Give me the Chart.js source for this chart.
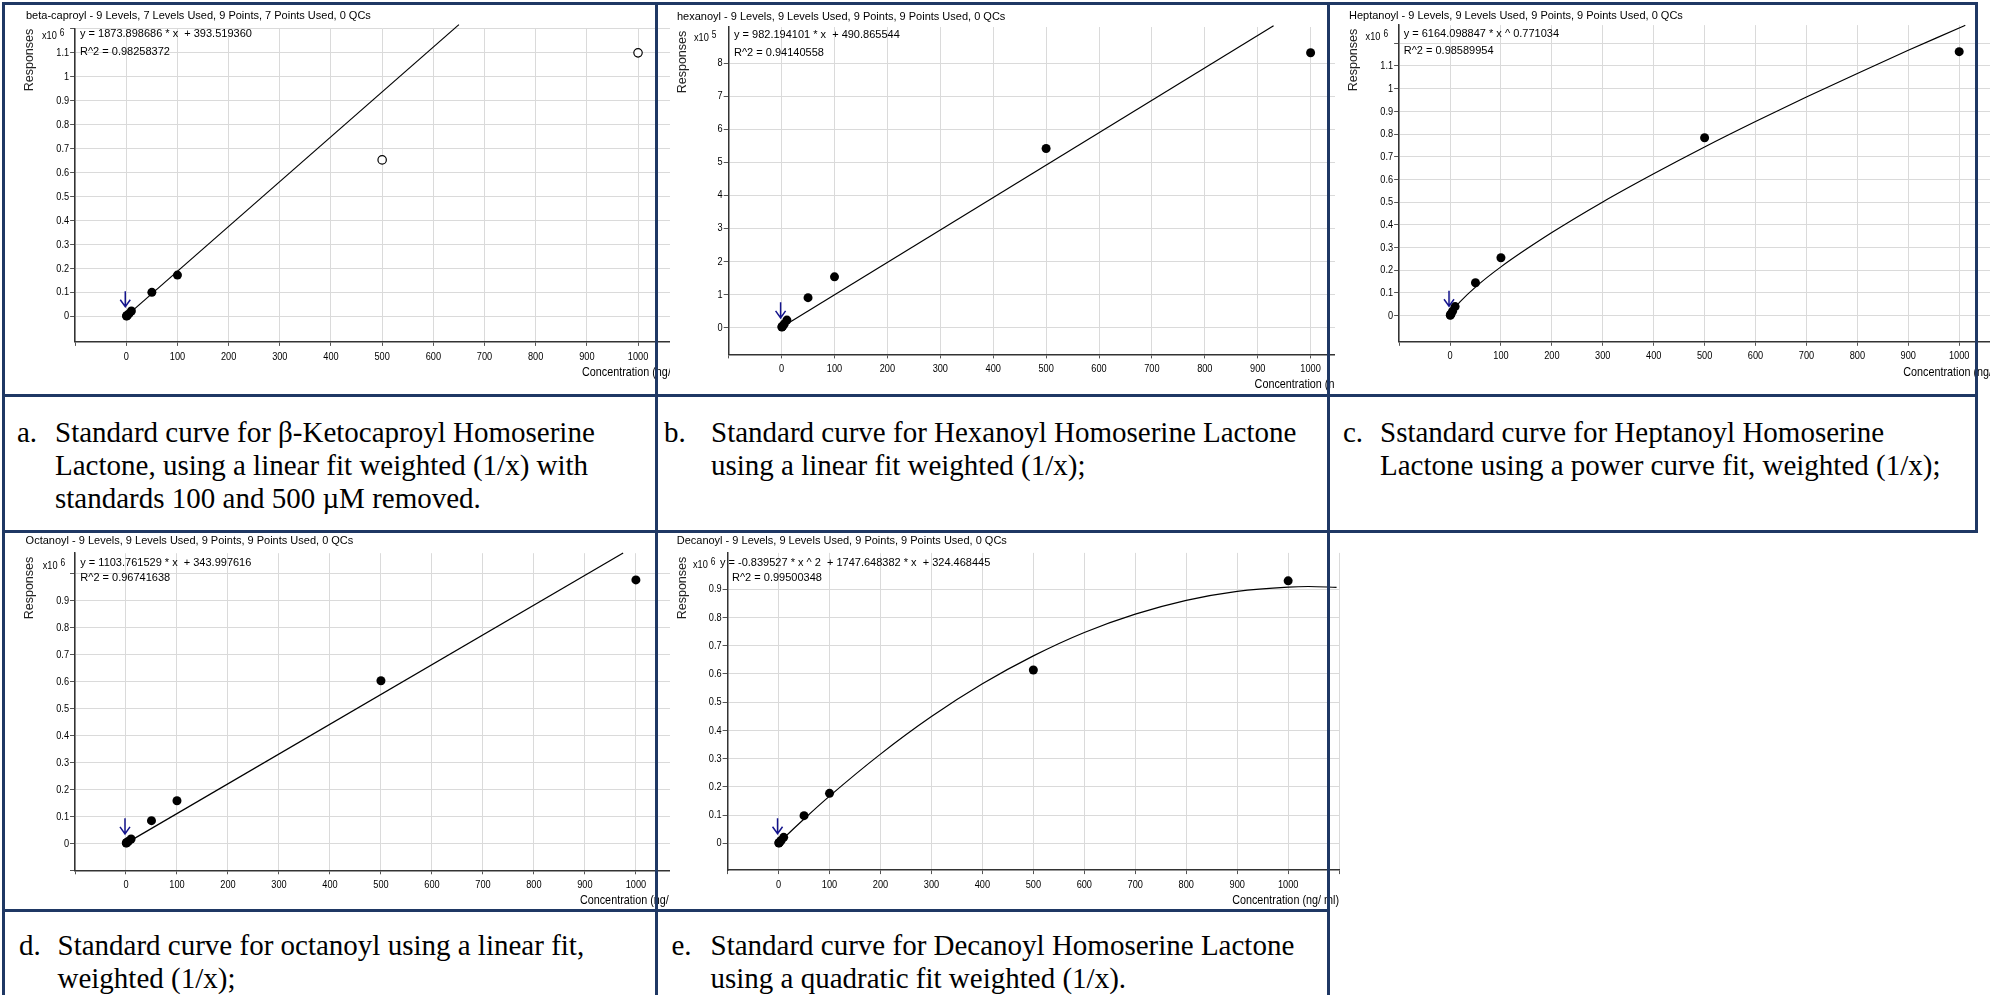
<!DOCTYPE html>
<html>
<head>
<meta charset="utf-8">
<title>AHL standard curves</title>
<script src="https://cdn.jsdelivr.net/npm/chart.js@4.4.1/dist/chart.umd.min.js"></script>
<style>
  html, body { margin: 0; padding: 0; background: #fff; }
  body { position: relative; width: 2002px; height: 995px; overflow: hidden; }
  .cell { position: absolute; overflow: hidden; }
  .cell canvas { position: absolute; left: 0; top: 0; }
  .rule { position: absolute; background: #1f3864; z-index: 5; }
  .cap { position: absolute; font: 29px/33px "Liberation Serif", "Times New Roman", serif; color: #000; white-space: nowrap; }
</style>
</head>
<body>
<script>
// calibration levels (ng/ml)
const levels = [0.5, 1, 2, 5, 10, 50, 100, 500, 1000];

// responses, in units of the axis multiplier (x10^6, hexanoyl x10^5)
const caproylResp   = [0.001, 0.002, 0.004, 0.010, 0.022, 0.100, 0.172, 0.653, 1.100];
const caproylUsed   = [1, 1, 1, 1, 1, 1, 1, 0, 0];
const hexanoylResp  = [0.01, 0.02, 0.04, 0.10, 0.22, 0.90, 1.53, 5.42, 8.32];
const heptanoylResp = [0.002, 0.004, 0.008, 0.020, 0.040, 0.145, 0.255, 0.784, 1.163];
const octanoylResp  = [0.001, 0.002, 0.003, 0.008, 0.016, 0.084, 0.158, 0.603, 0.977];
const decanoylResp  = [0.001, 0.002, 0.004, 0.010, 0.021, 0.098, 0.177, 0.614, 0.930];

// fitted curves
const caproylFitX   = [5, 650];
const caproylFitY   = [0.010, 1.218];
const hexanoylFitX  = [10, 930];
const hexanoylFitY  = [0.103, 9.14];
const heptanoylFitX = [5, 10, 20, 50, 100, 200, 300, 400, 500, 600, 700, 800, 900, 1000, 1012];
const heptanoylFitY = [0.021, 0.036, 0.062, 0.126, 0.215, 0.366, 0.501, 0.625, 0.743, 0.855, 0.963, 1.067, 1.169, 1.267, 1.279];
const octanoylFitX  = [10, 975];
const octanoylFitY  = [0.011, 1.077];
const decanoylFitX  = [5, 10, 50, 100, 200, 300, 400, 500, 600, 700, 800, 900, 1000, 1040, 1095];
const decanoylFitY  = [0.009, 0.018, 0.086, 0.167, 0.316, 0.449, 0.565, 0.664, 0.747, 0.812, 0.861, 0.893, 0.908, 0.910, 0.907];

// axis ticks
const xTicks = [0, 100, 200, 300, 400, 500, 600, 700, 800, 900, 1000];

const titles = [
  'beta-caproyl - 9 Levels, 7 Levels Used, 9 Points, 7 Points Used, 0 QCs',
  'hexanoyl - 9 Levels, 9 Levels Used, 9 Points, 9 Points Used, 0 QCs',
  'Heptanoyl - 9 Levels, 9 Levels Used, 9 Points, 9 Points Used, 0 QCs',
  'Octanoyl - 9 Levels, 9 Levels Used, 9 Points, 9 Points Used, 0 QCs',
  'Decanoyl - 9 Levels, 9 Levels Used, 9 Points, 9 Points Used, 0 QCs'
];
const equations = [
  ['y = 1873.898686 * x  + 393.519360', 'R^2 = 0.98258372'],
  ['y = 982.194101 * x  + 490.865544', 'R^2 = 0.94140558'],
  ['y = 6164.098847 * x ^ 0.771034', 'R^2 = 0.98589954'],
  ['y = 1103.761529 * x  + 343.997616', 'R^2 = 0.96741638'],
  ['y = -0.839527 * x ^ 2  + 1747.648382 * x  + 324.468445', 'R^2 = 0.99500348']
];
const exponents = [6, 5, 6, 6, 6];

const captions = [
  ['a.', 'Standard curve for \u03b2-Ketocaproyl Homoserine', 'Lactone, using a linear fit weighted (1/x) with', 'standards 100 and 500 \u00b5M removed.'],
  ['b.', 'Standard curve for Hexanoyl Homoserine Lactone', 'using a linear fit weighted (1/x);'],
  ['c.', 'Sstandard curve for Heptanoyl Homoserine', 'Lactone using a power curve fit, weighted (1/x);'],
  ['d.', 'Standard curve for octanoyl using a linear fit,', 'weighted (1/x);'],
  ['e.', 'Standard curve for Decanoyl Homoserine Lactone', 'using a quadratic fit weighted (1/x).']
];

const SANS = '"Liberation Sans", Arial, sans-serif';
Chart.defaults.font.family = SANS;
Chart.defaults.color = '#000';

// layout of each panel on the page (canvas box, visible width, plot rectangle L,T,R,B)
const panels = [
  { resp: caproylResp, used: caproylUsed, fitX: caproylFitX, fitY: caproylFitY, smooth: false,
    yMin: -0.107, yMax: 1.2, yStep: 0.1, yLab: [-0.1, 1.1],
    box: [6, 5, 700, 389], clipW: 664, plot: [75.1, 28.9, 689.2, 341.9],
    titleAt: [26, 16], eqAt: [80, 34.3], r2At: [80, 51.7], multAt: [42, 36], respAt: [30, 60] },
  { resp: hexanoylResp, used: null, fitX: hexanoylFitX, fitY: hexanoylFitY, smooth: false,
    yMin: -0.82, yMax: 9.1, yStep: 1, yLab: [0, 8],
    box: [658, 5, 716, 389], clipW: 677, plot: [728.7, 27, 1363.5, 354.4],
    titleAt: [677, 16.7], eqAt: [734, 35], r2At: [734, 52.7], multAt: [694, 38], respAt: [683, 62] },
  { resp: heptanoylResp, used: null, fitX: heptanoylFitX, fitY: heptanoylFitY, smooth: true,
    yMin: -0.115, yMax: 1.28, yStep: 0.1, yLab: [-0.1, 1.1],
    box: [1330, 5, 690, 389], clipW: 660, plot: [1399.1, 25.1, 2010.1, 341.8],
    titleAt: [1349, 15.7], eqAt: [1403.7, 34.3], r2At: [1403.7, 51], multAt: [1365.6, 36.7], respAt: [1353.6, 60] },
  { resp: octanoylResp, used: null, fitX: octanoylFitX, fitY: octanoylFitY, smooth: false,
    yMin: -0.1, yMax: 1.076, yStep: 0.1, yLab: [0, 0.9],
    box: [6, 533, 700, 376], clipW: 664, plot: [75, 553.2, 686.9, 870.3],
    titleAt: [25.6, 541], eqAt: [80.3, 562.7], r2At: [80.3, 578.3], multAt: [42.7, 566], respAt: [30, 588] },
  { resp: decanoylResp, used: null, fitX: decanoylFitX, fitY: decanoylFitY, smooth: true,
    yMin: -0.095, yMax: 1.029, yStep: 0.1, yLab: [0, 0.9],
    box: [658, 533, 700, 376], clipW: 682, plot: [727.6, 552.9, 1339.1, 870.1],
    titleAt: [676.7, 541], eqAt: [720, 562.7], r2At: [732, 578.3], multAt: [693, 565], respAt: [683, 588] }
];

const captionPos = [
  { tag: 17, text: 55, y: 432 },
  { tag: 664, text: 711, y: 432 },
  { tag: 1343, text: 1380, y: 432 },
  { tag: 19, text: 57.5, y: 945 },
  { tag: 671.5, text: 710.5, y: 945 }
];

// table borders: left, top, width, height
const rules = [
  [2, 2, 1976, 3], [2, 2, 3, 993], [655, 2, 3, 993], [1327, 2, 3, 993],
  [1975, 2, 3, 531], [2, 394, 1976, 3], [2, 530, 1976, 3], [2, 909, 1328, 3]
];

function onStep(v, step) {
  const k = v / step;
  return Math.abs(k - Math.round(k)) < 1e-6;
}

function yLabel(p, v) {
  if (v < p.yLab[0] - 1e-6 || v > p.yLab[1] + 1e-6) return '';
  return String(parseFloat(v.toFixed(2)));
}

// the instrument software uses a condensed sans face; squeeze regular glyphs to match
function narrowText(ctx, text, x, y, align, size) {
  ctx.save();
  ctx.font = size + 'px ' + SANS;
  ctx.textAlign = align;
  ctx.textBaseline = 'middle';
  ctx.translate(x, y);
  ctx.scale(0.8, 1);
  ctx.fillText(text, 0, 0);
  ctx.restore();
}

const decor = {
  id: 'decor',
  afterDraw(chart, args, opts) {
    const p = opts.panel, i = opts.index;
    const ctx = chart.ctx;
    const ox = p.box[0], oy = p.box[1];
    const xs = chart.scales.x, ys = chart.scales.y;
    ctx.save();
    ctx.fillStyle = '#000';

    // tick labels
    ys.ticks.forEach(t => {
      const lab = yLabel(p, t.value);
      if (lab) narrowText(ctx, lab, ys.right - 6, ys.getPixelForValue(t.value), 'right', 11.5);
    });
    xs.ticks.forEach(t => {
      if (xTicks.includes(t.value)) narrowText(ctx, String(t.value), xs.getPixelForValue(t.value), xs.top + 14.5, 'center', 11.5);
    });

    ctx.textBaseline = 'middle';
    ctx.textAlign = 'left';
    ctx.font = '11px ' + SANS;
    ctx.fillText(titles[i], p.titleAt[0] - ox, p.titleAt[1] - oy);
    ctx.fillText(equations[i][0], p.eqAt[0] - ox, p.eqAt[1] - oy);
    ctx.fillText(equations[i][1], p.r2At[0] - ox, p.r2At[1] - oy);

    // axis multiplier
    const mx = p.multAt[0] - ox, my = p.multAt[1] - oy;
    narrowText(ctx, 'x10', mx, my, 'left', 11.5);
    ctx.font = '11.5px ' + SANS;
    const w = ctx.measureText('x10').width * 0.8;
    narrowText(ctx, String(exponents[i]), mx + w + 3, my - 3, 'left', 10.5);

    // y title sits at the top of the axis
    ctx.save();
    ctx.translate(p.respAt[0] - ox, p.respAt[1] - oy);
    ctx.rotate(-Math.PI / 2);
    ctx.textAlign = 'center';
    ctx.font = '12.5px ' + SANS;
    ctx.fillStyle = '#222';
    ctx.fillText('Responses', 0, 0);
    ctx.restore();

    // x title, cut by the cell edge like the original
    narrowText(ctx, 'Concentration (ng/ ml)', xs.getPixelForValue(1000) - 56, ys.bottom + 30, 'left', 13.5);

    // LOQ arrow over the lowest standard
    const ax = xs.getPixelForValue(0) - 1, ay = ys.getPixelForValue(0);
    ctx.strokeStyle = '#14148c';
    ctx.lineWidth = 1.5;
    ctx.beginPath();
    ctx.moveTo(ax, ay - 25);
    ctx.lineTo(ax, ay - 9.5);
    ctx.moveTo(ax - 5, ay - 16.5);
    ctx.lineTo(ax, ay - 9.5);
    ctx.lineTo(ax + 5, ay - 16.5);
    ctx.stroke();
    ctx.restore();
  }
};

function buildChart(p, i) {
  const [bx, by, bw, bh] = p.box;
  const [L, T, R, B] = p.plot;

  const cell = document.createElement('div');
  cell.className = 'cell';
  cell.style.left = bx + 'px';
  cell.style.top = by + 'px';
  cell.style.width = p.clipW + 'px';
  cell.style.height = bh + 'px';
  const cv = document.createElement('canvas');
  cv.width = bw;
  cv.height = bh;
  cell.appendChild(cv);
  document.body.appendChild(cell);

  const used = [], dropped = [];
  levels.forEach((x, k) => {
    const pt = { x: x, y: p.resp[k] };
    if (!p.used || p.used[k]) used.push(pt); else dropped.push(pt);
  });
  const fit = p.fitX.map((x, k) => ({ x: x, y: p.fitY[k] }));

  return new Chart(cv, {
    type: 'scatter',
    data: {
      datasets: [
        { data: used, pointRadius: 4.5, pointBackgroundColor: '#000', pointBorderColor: '#000', pointBorderWidth: 0, order: 0 },
        { data: dropped, pointRadius: 4.2, pointBackgroundColor: '#fff', pointBorderColor: '#000', pointBorderWidth: 1.2, order: 0 },
        { data: fit, showLine: true, pointRadius: 0, borderColor: '#000', borderWidth: 1.2, fill: false,
          cubicInterpolationMode: p.smooth ? 'monotone' : 'default', clip: false, order: 1 }
      ]
    },
    options: {
      responsive: false,
      animation: false,
      devicePixelRatio: 1,
      events: [],
      layout: { padding: { left: 0, top: T - by, right: bx + bw - R, bottom: 0 } },
      plugins: {
        legend: { display: false },
        tooltip: { enabled: false },
        decor: { panel: p, index: i }
      },
      scales: {
        x: {
          type: 'linear',
          min: -100,
          max: 1100,
          afterFit: s => { s.height = by + bh - B; },
          ticks: { stepSize: 100, display: false },
          grid: { color: '#dadada', lineWidth: 1, tickColor: '#555', tickLength: 4 },
          border: { color: '#333', width: 1.5 }
        },
        y: {
          type: 'linear',
          min: p.yMin,
          max: p.yMax,
          afterBuildTicks: s => { s.ticks = s.ticks.filter(t => onStep(t.value, p.yStep)); },
          afterFit: s => { s.width = L - bx; },
          ticks: { stepSize: p.yStep, display: false },
          grid: { color: '#dadada', lineWidth: 1, tickColor: '#555', tickLength: 5 },
          border: { color: '#333', width: 1.5 }
        }
      }
    },
    plugins: [decor]
  });
}

panels.forEach(buildChart);

captions.forEach((c, i) => {
  const pos = captionPos[i];
  const tag = document.createElement('div');
  tag.className = 'cap';
  tag.textContent = c[0];
  tag.style.left = pos.tag + 'px';
  tag.style.top = (pos.y - 16.5) + 'px';
  document.body.appendChild(tag);
  const txt = document.createElement('div');
  txt.className = 'cap';
  txt.innerHTML = c.slice(1).join('<br>');
  txt.style.left = pos.text + 'px';
  txt.style.top = (pos.y - 16.5) + 'px';
  document.body.appendChild(txt);
});

rules.forEach(r => {
  const d = document.createElement('div');
  d.className = 'rule';
  d.style.left = r[0] + 'px';
  d.style.top = r[1] + 'px';
  d.style.width = r[2] + 'px';
  d.style.height = r[3] + 'px';
  document.body.appendChild(d);
});
</script>
</body>
</html>
